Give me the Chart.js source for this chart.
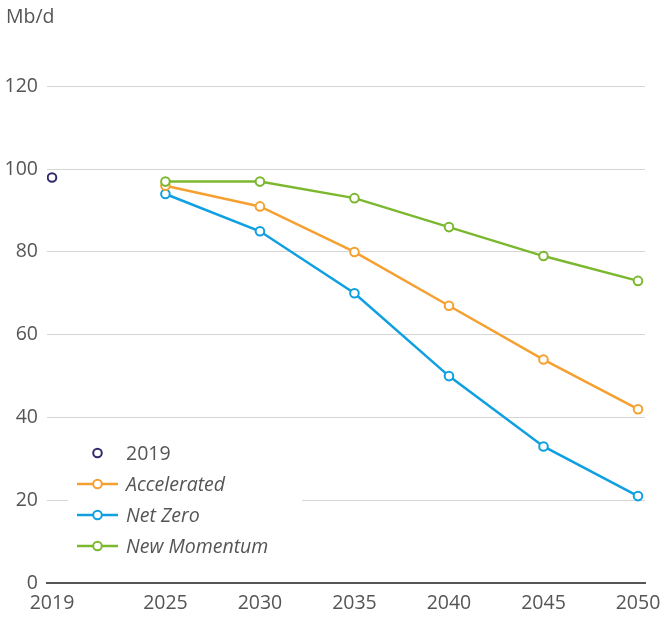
<!DOCTYPE html>
<html>
<head>
<meta charset="utf-8">
<script src="https://cdn.jsdelivr.net/npm/chart.js@4"></script>
<style>
  html, body { margin: 0; padding: 0; background: #fff; }
  #wrap { width: 665px; height: 617px; position: relative; }
</style>
</head>
<body>
<div id="wrap"><canvas id="c" width="665" height="617"></canvas></div>
<script>
const unitLabel = 'Mb/d';
const years = [2025, 2030, 2035, 2040, 2045, 2050];
const accelerated = [96, 91, 80, 67, 54, 42];
const netZero = [94, 85, 70, 50, 33, 21];
const newMomentum = [97, 97, 93, 86, 79, 73];
const baseYear = [2019];
const baseValue = [98];
const xTickYears = [2019, 2025, 2030, 2035, 2040, 2045, 2050];
const yTickValues = [0, 20, 40, 60, 80, 100, 120];
const seriesNames = ['2019', 'Accelerated', 'Net Zero', 'New Momentum'];

const COL_BASE = '#2e2a6b';
const COL_ACC = '#f5a030';
const COL_NZ = '#0ea0e0';
const COL_NM = '#7cb82f';
const TEXT = '#555555';
const FONT = '"Open Sans", "Liberation Sans", sans-serif';

const toXY = (xs, ys) => xs.map((x, i) => ({ x: x, y: ys[i] }));

function lineDs(label, xs, ys, color, order, italic) {
  return {
    label: label,
    data: toXY(xs, ys),
    borderColor: color,
    backgroundColor: '#ffffff',
    borderWidth: 2.5,
    pointRadius: 4.3,
    pointBorderWidth: 2,
    pointBackgroundColor: '#ffffff',
    pointBorderColor: color,
    tension: 0,
    order: order,
    italic: italic
  };
}

const datasets = [
  Object.assign(lineDs(seriesNames[0], baseYear, baseValue, COL_BASE, 0, false), { showLine: false }),
  lineDs(seriesNames[1], years, accelerated, COL_ACC, 2, true),
  lineDs(seriesNames[2], years, netZero, COL_NZ, 3, true),
  lineDs(seriesNames[3], years, newMomentum, COL_NM, 1, true)
];

const insideLegend = {
  id: 'insideLegend',
  afterDraw(chart) {
    const ctx = chart.ctx;
    ctx.save();
    ctx.fillStyle = '#ffffff';
    ctx.fillRect(68, 432, 234, 132);
    const rows = [453, 484, 515, 546];
    chart.data.datasets.forEach((ds, i) => {
      const y = rows[i];
      const cx = 97.5;
      if (ds.showLine !== false) {
        ctx.strokeStyle = ds.borderColor;
        ctx.lineWidth = 2.5;
        ctx.beginPath();
        ctx.moveTo(77, y);
        ctx.lineTo(118, y);
        ctx.stroke();
      }
      ctx.beginPath();
      ctx.arc(cx, y, 4.3, 0, Math.PI * 2);
      ctx.fillStyle = '#ffffff';
      ctx.fill();
      ctx.lineWidth = 2;
      ctx.strokeStyle = ds.borderColor;
      ctx.stroke();
      ctx.fillStyle = TEXT;
      ctx.font = (ds.italic ? 'italic ' : '') + '19.5px ' + FONT;
      ctx.textBaseline = 'middle';
      ctx.textAlign = 'left';
      ctx.fillText(ds.label, 126, y + 1);
    });
    ctx.restore();
  }
};

new Chart(document.getElementById('c'), {
  type: 'line',
  data: { datasets: datasets },
  options: {
    responsive: false,
    devicePixelRatio: 1,
    animation: false,
    layout: { padding: { left: 6, right: 20, top: 0, bottom: 0 } },
    plugins: {
      legend: { display: false },
      tooltip: { enabled: false },
      title: {
        display: true,
        text: unitLabel,
        align: 'start',
        color: TEXT,
        font: { family: FONT, size: 19.5, weight: 'normal' },
        padding: { top: 6, bottom: 57 }
      }
    },
    scales: {
      x: {
        type: 'linear',
        min: 2018.735,
        max: 2050.37,
        afterBuildTicks(scale) { scale.ticks = xTickYears.map(v => ({ value: v })); },
        afterFit(scale) { scale.height = 34; scale.paddingRight = 0; scale.paddingLeft = 0; },
        ticks: {
          color: TEXT,
          font: { family: FONT, size: 19.5 },
          padding: 9,
          maxRotation: 0,
          autoSkip: false,
          callback: v => String(v)
        },
        grid: { display: false, drawTicks: false },
        border: { display: true, color: '#555555', width: 2 }
      },
      y: {
        min: 0,
        max: 120,
        afterBuildTicks(scale) { scale.ticks = yTickValues.map(v => ({ value: v })); },
        afterFit(scale) { scale.width = 41; },
        ticks: {
          color: TEXT,
          font: { family: FONT, size: 19.5 },
          padding: 9,
          callback: v => String(v)
        },
        grid: { color: '#d6d6d6', lineWidth: 1, drawTicks: false },
        border: { display: false }
      }
    }
  },
  plugins: [insideLegend]
});
</script>
</body>
</html>
